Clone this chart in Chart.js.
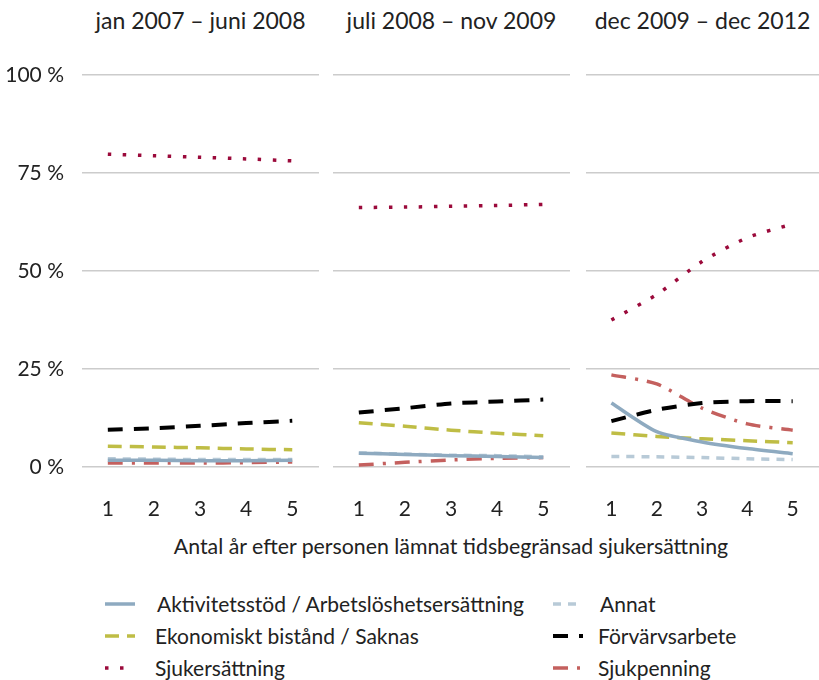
<!DOCTYPE html>
<html>
<head>
<meta charset="utf-8">
<script src="https://cdn.jsdelivr.net/npm/chart.js@4.4.1/dist/chart.umd.min.js"></script>
<style>
body { margin:0; background:#fff; font-family:Lato, sans-serif; color:#222; }
#wrap { position:relative; width:819px; height:680px; overflow:hidden; }
canvas { position:absolute; }
.title { position:absolute; top:5px; height:30px; line-height:30px; font-size:23px; text-align:center; }
#xtitle { position:absolute; left:0; width:902px; top:533px; line-height:26px; font-size:21.3px; text-align:center; }
.leg { position:absolute; height:24px; line-height:24px; font-size:21px; white-space:nowrap; }
.leg svg { position:absolute; left:0; top:0; }
.leg span { position:absolute; top:0; }
</style>
</head>
<body>
<div id="wrap">
  <canvas id="c0"></canvas>
  <canvas id="c1"></canvas>
  <canvas id="c2"></canvas>
  <div id="xtitle">Antal år efter personen lämnat tidsbegränsad sjukersättning</div>
</div>
<script>
// ======================
// DATA
// ======================

const years = [1, 2, 3, 4, 5];

const periods = [
    "jan 2007 – juni 2008",
    "juli 2008 – nov 2009",
    "dec 2009 – dec 2012"
];

const yTicks = [0, 25, 50, 75, 100];

// one row per period, values in %
const aktivitet = [
    [1.7, 1.7, 1.6, 1.6, 1.7],
    [3.5, 3.2, 2.9, 2.7, 2.4],
    [16.3, 9.0, 6.4, 4.7, 3.4]
];

const annat = [
    [2.1, 2.0, 1.9, 1.9, 1.9],
    [3.6, 3.3, 3.0, 2.9, 2.6],
    [2.7, 2.6, 2.4, 2.1, 1.9]
];

const ekonomiskt = [
    [5.3, 5.1, 4.9, 4.6, 4.4],
    [11.3, 10.4, 9.4, 8.6, 8.0],
    [8.7, 7.8, 7.2, 6.7, 6.2]
];

const forvarv = [
    [9.5, 9.9, 10.5, 11.2, 11.8],
    [13.9, 15.0, 16.2, 16.7, 17.2],
    [11.7, 14.6, 16.3, 16.8, 16.8]
];

const sjukersattning = [
    [79.8, 79.4, 79.0, 78.6, 78.1],
    [66.2, 66.3, 66.5, 66.7, 67.0],
    [37.5, 44.0, 52.4, 58.5, 62.0]
];

const sjukpenning = [
    [1.0, 1.0, 1.0, 1.1, 1.3],
    [0.5, 1.2, 1.8, 2.2, 2.4],
    [23.5, 21.2, 15.0, 11.0, 9.4]
];

// ======================
// SERIES STYLE
// ======================

const series = [
    { label:"Aktivitetsstöd / Arbetslöshetsersättning", data:aktivitet, color:"#8eaac0", dash:[], width:3.5 },
    { label:"Annat", data:annat, color:"#b8cad7", dash:[8,7], width:3.5 },
    { label:"Ekonomiskt bistånd / Saknas", data:ekonomiskt, color:"#bfbd45", dash:[14,8], width:3.5 },
    { label:"Förvärvsarbete", data:forvarv, color:"#000000", dash:[15,11], width:4 },
    { label:"Sjukersättning", data:sjukersattning, color:"#9b0a3b", dash:[3.5,11.5], width:3.5 },
    { label:"Sjukpenning", data:sjukpenning, color:"#c4605e", dash:[15,9,3,9], width:3.5 }
];

// ======================
// PANELS
// ======================

const panels = [
    { left:0, width:319, axisW:82, showY:true },
    { left:333, width:237, axisW:0, showY:false },
    { left:586, width:233, axisW:0, showY:false }
];

Chart.defaults.font.family = "Lato, sans-serif";
Chart.defaults.color = "#222";

const wrap = document.getElementById("wrap");

panels.forEach((p, i) => {

    const canvas = document.getElementById("c" + i);
    canvas.style.left = p.left + "px";
    canvas.style.top = "60px";
    canvas.width = p.width;
    canvas.height = 470;
    canvas.style.width = p.width + "px";
    canvas.style.height = "470px";

    const t = document.createElement("div");
    t.className = "title";
    t.style.left = (p.left + p.axisW) + "px";
    t.style.width = (p.width - p.axisW) + "px";
    t.textContent = periods[i];
    wrap.appendChild(t);

    new Chart(canvas, {
        type:"line",
        data:{
            datasets: series.map(s => ({
                label:s.label,
                data:years.map((x, k) => ({ x:x, y:s.data[i][k] })),
                borderColor:s.color,
                borderWidth:s.width,
                borderDash:s.dash,
                borderCapStyle:"butt",
                pointRadius:0,
                tension:0.25,
                fill:false
            }))
        },
        options:{
            responsive:false,
            animation:false,
            layout:{ padding:{ top:15, left:0, right:0, bottom:0 } },
            plugins:{ legend:{ display:false }, tooltip:{ enabled:false } },
            scales:{
                x:{
                    type:"linear",
                    min:0.44,
                    max:5.58,
                    afterBuildTicks: sc => { sc.ticks = years.map(v => ({ value:v })); },
                    afterFit: sc => { sc.height = 63; },
                    grid:{ display:false, drawTicks:true, tickLength:28 },
                    border:{ display:false },
                    ticks:{ padding:2, font:{ size:21 }, color:"#222" }
                },
                y:{
                    min:0,
                    max:100,
                    afterBuildTicks: sc => { sc.ticks = yTicks.map(v => ({ value:v })); },
                    afterFit: sc => { sc.width = p.axisW; },
                    grid:{ color:"#cccccc", lineWidth:1.5, drawTicks:true, tickLength:18, tickColor:"rgba(0,0,0,0)" },
                    border:{ display:false },
                    ticks:{
                        display:p.showY,
                        padding:0,
                        font:{ size:21 },
                        color:"#222",
                        callback: v => v + " %"
                    }
                }
            }
        }
    });

});

// ======================
// LEGEND
// ======================

const legPos = [
    { x:103, tx:54, y:592 },
    { x:551, tx:49, y:592 },
    { x:103, tx:52, y:624 },
    { x:551, tx:47, y:624 },
    { x:103, tx:52, y:656 },
    { x:551, tx:47, y:656 }
];

series.forEach((s, i) => {
    const pos = legPos[i];
    const d = document.createElement("div");
    d.className = "leg";
    d.style.left = pos.x + "px";
    d.style.top = pos.y + "px";
    d.style.width = "420px";
    const dash = s.dash.length ? s.dash.join(" ") : "none";
    d.innerHTML =
        '<svg width="34" height="24"><line x1="2" y1="12" x2="32" y2="12" stroke="' + s.color +
        '" stroke-width="' + s.width + '" stroke-dasharray="' + dash + '"/></svg>' +
        '<span style="left:' + pos.tx + 'px">' + s.label + '</span>';
    wrap.appendChild(d);
});
</script>
</body>
</html>
